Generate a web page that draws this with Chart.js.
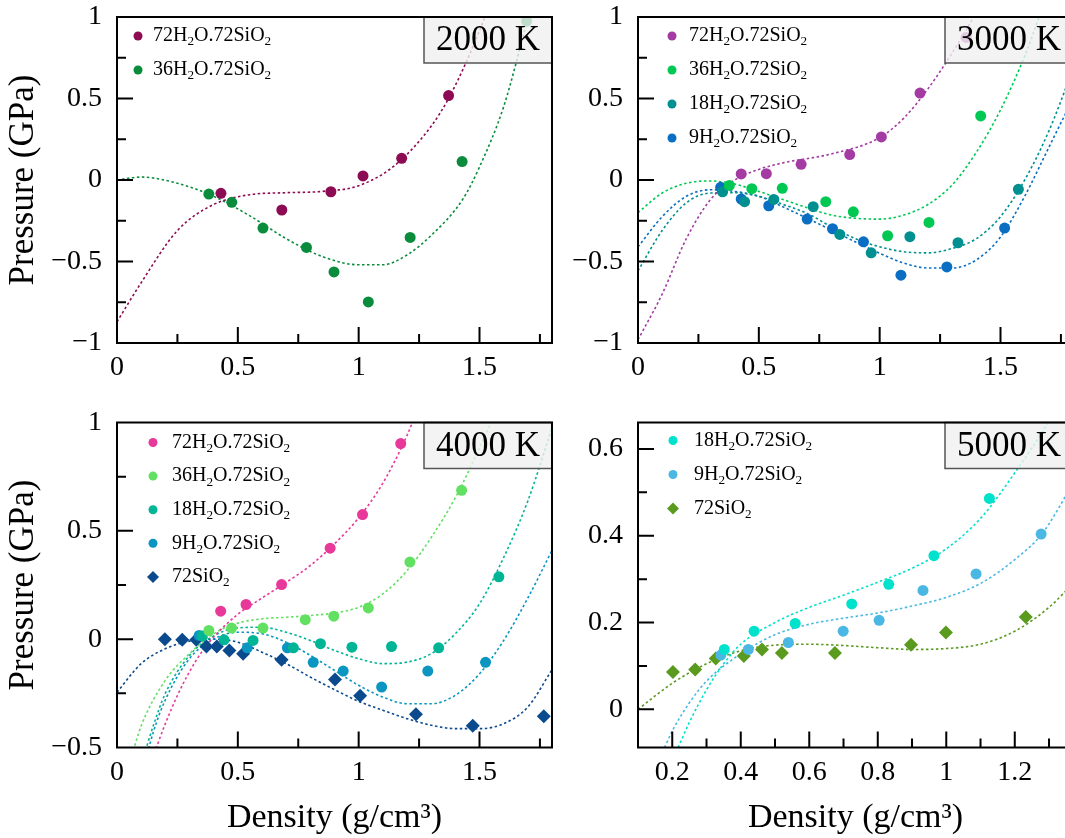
<!DOCTYPE html>
<html>
<head>
<meta charset="utf-8">
<script src="https://cdn.jsdelivr.net/npm/chart.js@4.4.1/dist/chart.umd.min.js"></script>
<style>
  html, body { margin: 0; padding: 0; background: #fff; overflow: hidden; width: 1065px; height: 838px; }
  .panel { position: absolute; }
</style>
</head>
<body>
<div class="panel" style="left:0;top:0"><canvas id="c2000" width="560" height="400"></canvas></div>
<div class="panel" style="left:560px;top:0"><canvas id="c3000" width="540" height="400"></canvas></div>
<div class="panel" style="left:0;top:400px"><canvas id="c4000" width="560" height="438"></canvas></div>
<div class="panel" style="left:560px;top:400px"><canvas id="c5000" width="540" height="438"></canvas></div>
<script>
// --- data: density (g/cm3) vs pressure (GPa) ---

// 2000 K
const rho2000a = [0.43, 0.682, 0.885, 1.018, 1.178, 1.372];
const p2000a = [-0.082, -0.184, -0.072, 0.025, 0.133, 0.518];
const fitRho2000a = [0, 0.1, 0.25, 0.4, 0.55, 0.7, 0.85, 1.0, 1.15, 1.3, 1.372, 1.45, 1.55];
const fitP2000a = [-0.87, -0.63, -0.31, -0.15, -0.09, -0.078, -0.07, -0.035, 0.09, 0.33, 0.5, 0.74, 1.1];
const rho2000b = [0.38, 0.475, 0.604, 0.784, 0.898, 1.04, 1.213, 1.428, 1.695];
const p2000b = [-0.086, -0.137, -0.295, -0.414, -0.564, -0.748, -0.352, 0.113, 0.975];
const fitRho2000b = [0, 0.1, 0.25, 0.4, 0.55, 0.7, 0.85, 1.0, 1.1, 1.2, 1.3, 1.43, 1.5, 1.6, 1.7, 1.76];
const fitP2000b = [0.0, 0.018, -0.02, -0.1, -0.22, -0.36, -0.47, -0.52, -0.52, -0.46, -0.34, -0.12, 0.08, 0.45, 0.99, 1.3];

// 3000 K
const rho3000a = [0.427, 0.531, 0.675, 0.876, 1.007, 1.167, 1.358];
const p3000a = [0.037, 0.039, 0.096, 0.156, 0.264, 0.533, 0.875];
const fitRho3000a = [0, 0.1, 0.2, 0.3, 0.4, 0.5, 0.6, 0.8, 1.0, 1.1, 1.2, 1.3, 1.4, 1.45];
const fitP3000a = [-0.98, -0.7, -0.36, -0.12, 0.0, 0.065, 0.105, 0.16, 0.26, 0.38, 0.56, 0.78, 1.03, 1.18];
const rho3000b = [0.378, 0.471, 0.597, 0.777, 0.891, 1.033, 1.204, 1.418];
const p3000b = [-0.033, -0.053, -0.051, -0.133, -0.195, -0.342, -0.26, 0.393];
const fitRho3000b = [0, 0.1, 0.2, 0.3, 0.4, 0.5, 0.6, 0.7, 0.8, 0.9, 1.0, 1.1, 1.2, 1.3, 1.4, 1.5, 1.6, 1.66, 1.72];
const fitP3000b = [-0.2, -0.08, -0.02, -0.006, -0.025, -0.07, -0.12, -0.17, -0.215, -0.235, -0.24, -0.215, -0.15, -0.03, 0.17, 0.43, 0.76, 1.0, 1.25];
const rho3000c = [0.35, 0.441, 0.562, 0.725, 0.835, 0.965, 1.125, 1.324, 1.574];
const p3000c = [-0.072, -0.133, -0.119, -0.164, -0.334, -0.447, -0.348, -0.385, -0.057];
const fitRho3000c = [0, 0.1, 0.2, 0.3, 0.4, 0.5, 0.6, 0.7, 0.8, 0.9, 1.0, 1.1, 1.2, 1.3, 1.4, 1.5, 1.6, 1.7, 1.8];
const fitP3000c = [-0.557, -0.31, -0.14, -0.08, -0.078, -0.1, -0.15, -0.205, -0.287, -0.36, -0.41, -0.44, -0.447, -0.42, -0.36, -0.225, 0.0, 0.3, 0.68];
const rho3000d = [0.342, 0.427, 0.541, 0.7, 0.805, 0.933, 1.088, 1.278, 1.517];
const p3000d = [-0.045, -0.117, -0.158, -0.24, -0.299, -0.379, -0.584, -0.533, -0.295];
const fitRho3000d = [0, 0.1, 0.2, 0.3, 0.4, 0.5, 0.6, 0.7, 0.8, 0.9, 1.0, 1.1, 1.2, 1.3, 1.4, 1.5, 1.6, 1.7, 1.8];
const fitP3000d = [-0.41, -0.225, -0.1, -0.06, -0.07, -0.1, -0.165, -0.235, -0.307, -0.38, -0.45, -0.51, -0.54, -0.54, -0.49, -0.35, -0.1, 0.2, 0.5];

// 4000 K
const rho4000a = [0.429, 0.534, 0.681, 0.882, 1.016, 1.174];
const p4000a = [0.129, 0.16, 0.252, 0.42, 0.575, 0.903];
const fitRho4000a = [0.14, 0.2, 0.25, 0.3, 0.35, 0.4, 0.5, 0.6, 0.7, 0.8, 0.9, 1.0, 1.1, 1.2, 1.25];
const fitP4000a = [-0.57, -0.39, -0.26, -0.15, -0.06, 0.01, 0.115, 0.19, 0.262, 0.34, 0.44, 0.56, 0.72, 0.94, 1.08];
const rho4000b = [0.38, 0.474, 0.604, 0.779, 0.897, 1.04, 1.212, 1.426];
const p4000b = [0.04, 0.051, 0.051, 0.09, 0.106, 0.144, 0.356, 0.687];
const fitRho4000b = [0.05, 0.1, 0.2, 0.3, 0.4, 0.5, 0.6, 0.7, 0.8, 0.9, 1.0, 1.1, 1.2, 1.3, 1.4, 1.5, 1.56];
const fitP4000b = [-0.58, -0.4, -0.19, -0.067, 0.025, 0.074, 0.094, 0.101, 0.109, 0.121, 0.147, 0.209, 0.316, 0.469, 0.653, 0.883, 1.03];
const rho4000c = [0.353, 0.443, 0.563, 0.73, 0.842, 0.972, 1.136, 1.331, 1.58];
const p4000c = [0.015, -0.003, -0.006, -0.04, -0.021, -0.037, -0.034, -0.04, 0.288];
const fitRho4000c = [0.1, 0.15, 0.2, 0.3, 0.4, 0.5, 0.6, 0.7, 0.8, 0.9, 1.0, 1.1, 1.2, 1.3, 1.4, 1.5, 1.6, 1.7, 1.8];
const fitP4000c = [-0.58, -0.4, -0.25, -0.075, 0.015, 0.052, 0.055, 0.032, -0.006, -0.052, -0.09, -0.113, -0.106, -0.067, 0.025, 0.163, 0.377, 0.638, 0.975];
const rho4000d = [0.34, 0.539, 0.705, 0.812, 0.936, 1.095, 1.286, 1.525];
const p4000d = [0.017, -0.04, -0.04, -0.107, -0.147, -0.221, -0.147, -0.107];
const fitRho4000d = [0.1, 0.15, 0.2, 0.3, 0.4, 0.5, 0.6, 0.7, 0.8, 0.9, 1.0, 1.1, 1.2, 1.3, 1.4, 1.5, 1.6, 1.7, 1.8];
const fitP4000d = [-0.64, -0.43, -0.28, -0.09, 0.0, 0.032, 0.025, -0.014, -0.075, -0.144, -0.213, -0.267, -0.298, -0.298, -0.259, -0.16, -0.006, 0.19, 0.41];
const rho4000e = [0.198, 0.27, 0.328, 0.37, 0.413, 0.465, 0.522, 0.681, 0.902, 1.006, 1.237, 1.472, 1.766];
const p4000e = [0.0, -0.003, -0.003, -0.034, -0.034, -0.052, -0.067, -0.095, -0.186, -0.261, -0.347, -0.4, -0.356];
const fitRho4000e = [0, 0.1, 0.2, 0.3, 0.4, 0.5, 0.6, 0.7, 0.8, 0.9, 1.0, 1.1, 1.2, 1.3, 1.4, 1.5, 1.6, 1.7, 1.8];
const fitP4000e = [-0.245, -0.113, -0.044, -0.009, 0.0, -0.014, -0.06, -0.113, -0.175, -0.233, -0.287, -0.328, -0.367, -0.397, -0.413, -0.413, -0.39, -0.313, -0.141];

// 5000 K
const rho5000a = [0.352, 0.439, 0.559, 0.724, 0.832, 0.964, 1.126];
const p5000a = [0.138, 0.18, 0.198, 0.243, 0.288, 0.354, 0.486];
const fitRho5000a = [0.2, 0.25, 0.3, 0.35, 0.4, 0.5, 0.6, 0.7, 0.8, 0.9, 1.0, 1.1, 1.2, 1.3, 1.37];
const fitP5000a = [-0.12, -0.03, 0.045, 0.105, 0.15, 0.2, 0.235, 0.263, 0.293, 0.325, 0.37, 0.44, 0.545, 0.665, 0.77];
const rho5000b = [0.342, 0.422, 0.539, 0.699, 0.804, 0.932, 1.087, 1.277];
const p5000b = [0.125, 0.138, 0.154, 0.18, 0.205, 0.274, 0.312, 0.404];
const fitRho5000b = [0.16, 0.2, 0.25, 0.3, 0.4, 0.5, 0.6, 0.7, 0.8, 0.9, 1.0, 1.1, 1.2, 1.28, 1.37];
const fitP5000b = [-0.12, -0.05, 0.015, 0.065, 0.128, 0.172, 0.196, 0.21, 0.222, 0.238, 0.258, 0.29, 0.345, 0.405, 0.52];
const rho5000c = [0.202, 0.267, 0.327, 0.409, 0.462, 0.52, 0.675, 0.897, 0.999, 1.232];
const p5000c = [0.086, 0.092, 0.117, 0.123, 0.138, 0.13, 0.13, 0.149, 0.177, 0.213];
const fitRho5000c = [0.1, 0.2, 0.3, 0.4, 0.5, 0.6, 0.7, 0.8, 0.9, 1.0, 1.1, 1.2, 1.3, 1.37];
const fitP5000c = [0.0, 0.06, 0.105, 0.135, 0.148, 0.15, 0.147, 0.142, 0.138, 0.14, 0.15, 0.18, 0.235, 0.29];

// tick labels
const xTicksRho = [0, 0.5, 1, 1.5];
const xTicks5000 = [0.2, 0.4, 0.6, 0.8, 1, 1.2];
const yTicksWide = [-1, -0.5, 0, 0.5, 1];
const yTicks4000 = [-0.5, 0, 0.5, 1];
const yTicks5000 = [0, 0.2, 0.4, 0.6];

const FONT = '"Liberation Serif", "Times New Roman", serif';

// format tick with a real minus sign
function fmt(v) {
  const s = String(Math.round(v * 100) / 100);
  return v < 0 ? '\u2212' + s.slice(1) : s;
}

function pts(xs, ys) {
  return xs.map((x, i) => ({ x: x, y: ys[i] }));
}

function scatterSet(label, xs, ys, color, style) {
  const diamond = style === 'rectRot';
  return {
    type: 'scatter', label: label, data: pts(xs, ys),
    backgroundColor: color, borderColor: color, borderWidth: 0,
    pointStyle: style || 'circle', pointRadius: diamond ? 7 : 5.5,
    order: 1
  };
}

function fitSet(xs, ys, color) {
  return {
    type: 'line', label: '', isFit: true, data: pts(xs, ys),
    borderColor: color, borderWidth: 1.6, borderDash: [2.5, 2.5],
    pointRadius: 0, fill: false, cubicInterpolationMode: 'monotone',
    order: 2
  };
}

// draw a label like 72H₂O.72SiO₂ with real subscripts
function drawChem(ctx, text, x, y, size) {
  let cx = x;
  for (const ch of text) {
    if (ch === '\u2082') {
      ctx.font = (size * 0.66) + 'px ' + FONT;
      ctx.fillText('2', cx, y + size * 0.3);
      cx += ctx.measureText('2').width;
    } else {
      ctx.font = size + 'px ' + FONT;
      ctx.fillText(ch, cx, y);
      cx += ctx.measureText(ch).width;
    }
  }
}

// frame, inward ticks, temperature box and legend
const panelDecor = {
  id: 'panelDecor',
  afterDatasetsDraw(chart, args, opts) {
    const { ctx, chartArea: a } = chart;
    const xs = chart.scales.x, ys = chart.scales.y;
    ctx.save();

    // temperature label box (semi-transparent, points show through)
    const bw = 128, bh = 46;
    ctx.fillStyle = 'rgba(240,240,240,0.8)';
    ctx.fillRect(a.right - bw, a.top, bw, bh);
    ctx.strokeStyle = '#555';
    ctx.lineWidth = 1.5;
    ctx.strokeRect(a.right - bw, a.top, bw, bh);
    ctx.fillStyle = '#000';
    ctx.font = '35px ' + FONT;
    ctx.textAlign = 'center';
    ctx.textBaseline = 'middle';
    ctx.fillText(opts.temp, a.right - bw / 2, a.top + bh / 2 + 1);

    // frame
    ctx.strokeStyle = '#000';
    ctx.lineWidth = 2;
    ctx.strokeRect(a.left, a.top, a.right - a.left, a.bottom - a.top);

    // ticks
    const major = 16, minor = 9;
    ctx.beginPath();
    const doTicks = (scale, step, horiz) => {
      const first = Math.ceil(scale.min / step - 1e-6);
      const last = Math.floor(scale.max / step + 1e-6);
      const majors = scale.ticks.map(t => t.value);
      for (let k = first; k <= last; k++) {
        const v = k * step;
        const isMajor = majors.some(m => Math.abs(m - v) < 1e-6);
        const len = isMajor ? major : minor;
        const p = scale.getPixelForValue(v);
        if (horiz) {
          if (p <= a.left + 1 || p >= a.right - 1) continue;
          ctx.moveTo(p, a.bottom);
          ctx.lineTo(p, a.bottom - len);
        } else {
          if (p <= a.top + 1 || p >= a.bottom - 1) continue;
          ctx.moveTo(a.left, p);
          ctx.lineTo(a.left + len, p);
        }
      }
    };
    doTicks(xs, opts.xMinor, true);
    doTicks(ys, opts.yMinor, false);
    ctx.stroke();

    // legend
    const L = opts.legend;
    let row = 0;
    ctx.textAlign = 'left';
    ctx.textBaseline = 'middle';
    chart.data.datasets.forEach(ds => {
      if (ds.isFit) return;
      const y = a.top + L.y + row * L.gap;
      ctx.fillStyle = ds.backgroundColor;
      const diamond = ds.pointStyle === 'rectRot';
      Chart.helpers.drawPoint(ctx, {
        pointStyle: ds.pointStyle, radius: diamond ? 6 : 4.5, borderWidth: 0
      }, a.left + L.mx, y);
      ctx.fillStyle = '#000';
      drawChem(ctx, ds.label, a.left + L.tx, y, 20);
      row++;
    });
    ctx.restore();
  }
};

function axes(o) {
  const zeroPad = s => { s.paddingLeft = 0; s.paddingRight = 0; s.paddingTop = 0; s.paddingBottom = 0; };
  return {
    x: {
      type: 'linear', min: o.xMin, max: o.xMax,
      grid: { display: false, drawTicks: false }, border: { display: false },
      afterBuildTicks: s => { s.ticks = o.xTicks.map(v => ({ value: v })); },
      afterFit: s => { s.height = o.xH; zeroPad(s); },
      ticks: { callback: fmt, color: '#000', font: { family: FONT, size: 28 }, padding: 8, maxRotation: 0, autoSkip: false },
      title: { display: !!o.xTitle, text: 'Density (g/cm\u00b3)', color: '#000', font: { family: FONT, size: 34 }, padding: { top: 0, bottom: 0 } }
    },
    y: {
      type: 'linear', min: o.yMin, max: o.yMax,
      grid: { display: false, drawTicks: false }, border: { display: false },
      afterBuildTicks: s => { s.ticks = o.yTicks.map(v => ({ value: v })); },
      afterFit: s => { s.width = o.yW; zeroPad(s); },
      ticks: { callback: fmt, color: '#000', font: { family: FONT, size: 28 }, padding: 15, autoSkip: false },
      title: { display: !!o.yTitle, text: 'Pressure (GPa)', color: '#000', font: { family: FONT, size: 35 }, padding: { top: 3, bottom: 0 } }
    }
  };
}

function makePanel(id, datasets, o) {
  new Chart(document.getElementById(id), {
    type: 'scatter',
    data: { datasets: datasets },
    options: {
      responsive: false,
      animation: false,
      events: [],
      layout: { autoPadding: false, padding: o.pad },
      scales: axes(o),
      plugins: {
        legend: { display: false },
        tooltip: { enabled: false },
        panelDecor: { temp: o.temp, xMinor: o.xMinor, yMinor: o.yMinor, legend: o.legend }
      }
    },
    plugins: [panelDecor]
  });
}

const C = {
  a2: '#8c0b52', b2: '#0a8c3c',
  a3: '#a33ba3', b3: '#00c853', c3: '#00908f', d3: '#0a6fc2',
  a4: '#e8399a', b4: '#62e062', c4: '#00b596', d4: '#0a96c0', e4: '#0b4a8c',
  a5: '#00e2cb', b5: '#4ab8e2', c5: '#5a9a1e'
};

makePanel('c2000', [
  scatterSet('72H\u2082O.72SiO\u2082', rho2000a, p2000a, C.a2),
  scatterSet('36H\u2082O.72SiO\u2082', rho2000b, p2000b, C.b2),
  fitSet(fitRho2000a, fitP2000a, C.a2),
  fitSet(fitRho2000b, fitP2000b, C.b2)
], {
  temp: '2000 K', xMin: 0, xMax: 1.8, yMin: -1, yMax: 1, xTicks: xTicksRho, yTicks: yTicksWide,
  xMinor: 0.25, yMinor: 0.25, yW: 117, xH: 57, pad: { left: 0, top: 17, right: 8, bottom: 0 },
  yTitle: true, xTitle: false, legend: { mx: 21, tx: 36, y: 19, gap: 34 }
});

makePanel('c3000', [
  scatterSet('72H\u2082O.72SiO\u2082', rho3000a, p3000a, C.a3),
  scatterSet('36H\u2082O.72SiO\u2082', rho3000b, p3000b, C.b3),
  scatterSet('18H\u2082O.72SiO\u2082', rho3000c, p3000c, C.c3),
  scatterSet('9H\u2082O.72SiO\u2082', rho3000d, p3000d, C.d3),
  fitSet(fitRho3000a, fitP3000a, C.a3),
  fitSet(fitRho3000b, fitP3000b, C.b3),
  fitSet(fitRho3000c, fitP3000c, C.c3),
  fitSet(fitRho3000d, fitP3000d, C.d3)
], {
  temp: '3000 K', xMin: 0, xMax: 1.8, yMin: -1, yMax: 1, xTicks: xTicksRho, yTicks: yTicksWide,
  xMinor: 0.25, yMinor: 0.25, yW: 78, xH: 57, pad: { left: 0, top: 17, right: 27, bottom: 0 },
  yTitle: false, xTitle: false, legend: { mx: 34, tx: 51, y: 19, gap: 34 }
});

makePanel('c4000', [
  scatterSet('72H\u2082O.72SiO\u2082', rho4000a, p4000a, C.a4),
  scatterSet('36H\u2082O.72SiO\u2082', rho4000b, p4000b, C.b4),
  scatterSet('18H\u2082O.72SiO\u2082', rho4000c, p4000c, C.c4),
  scatterSet('9H\u2082O.72SiO\u2082', rho4000d, p4000d, C.d4),
  scatterSet('72SiO\u2082', rho4000e, p4000e, C.e4, 'rectRot'),
  fitSet(fitRho4000a, fitP4000a, C.a4),
  fitSet(fitRho4000b, fitP4000b, C.b4),
  fitSet(fitRho4000c, fitP4000c, C.c4),
  fitSet(fitRho4000d, fitP4000d, C.d4),
  fitSet(fitRho4000e, fitP4000e, C.e4)
], {
  temp: '4000 K', xMin: 0, xMax: 1.8, yMin: -0.5, yMax: 1, xTicks: xTicksRho, yTicks: yTicks4000,
  xMinor: 0.25, yMinor: 0.25, yW: 117, xH: 90.5, pad: { left: 0, top: 22.5, right: 8, bottom: 0 },
  yTitle: true, xTitle: true, legend: { mx: 36, tx: 55, y: 20, gap: 33.6 }
});

makePanel('c5000', [
  scatterSet('18H\u2082O.72SiO\u2082', rho5000a, p5000a, C.a5),
  scatterSet('9H\u2082O.72SiO\u2082', rho5000b, p5000b, C.b5),
  scatterSet('72SiO\u2082', rho5000c, p5000c, C.c5, 'rectRot'),
  fitSet(fitRho5000a, fitP5000a, C.a5),
  fitSet(fitRho5000b, fitP5000b, C.b5),
  fitSet(fitRho5000c, fitP5000c, C.c5)
], {
  temp: '5000 K', xMin: 0.1, xMax: 1.37, yMin: -0.088, yMax: 0.661, xTicks: xTicks5000, yTicks: yTicks5000,
  xMinor: 0.1, yMinor: 0.1, yW: 78, xH: 90.5, pad: { left: 0, top: 22.5, right: 27, bottom: 0 },
  yTitle: false, xTitle: true, legend: { mx: 35, tx: 56, y: 18, gap: 34 }
});
</script>
</body>
</html>
